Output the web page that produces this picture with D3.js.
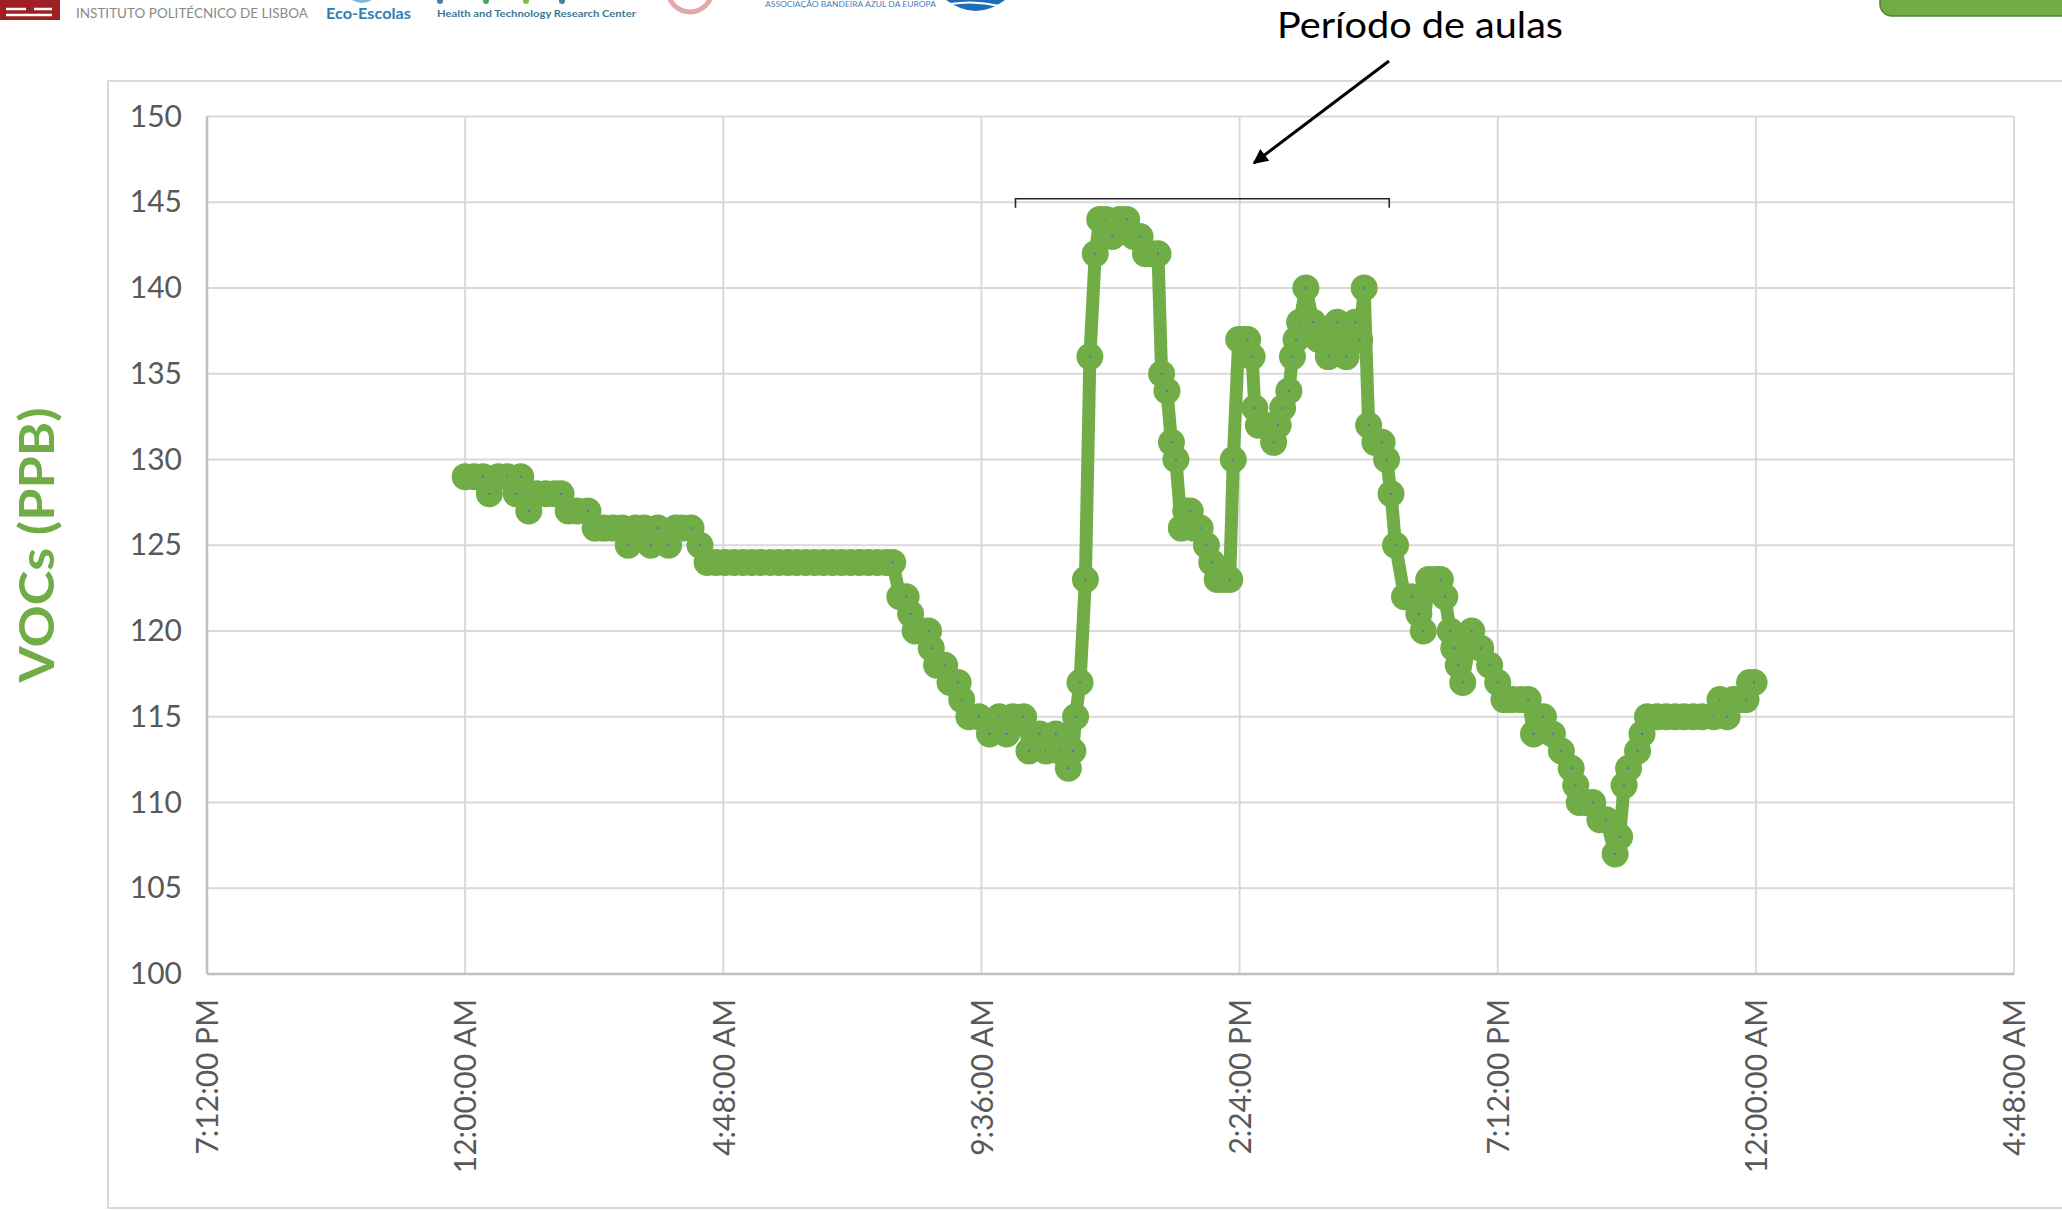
<!DOCTYPE html>
<html>
<head>
<meta charset="utf-8">
<script src="https://cdnjs.cloudflare.com/ajax/libs/d3/7.8.5/d3.min.js"></script>
<style>
    html, body { margin: 0; padding: 0; background: #fff; }
    #chart { width: 2062px; height: 1210px; overflow: hidden; }
    .axis text { font-family: Lato, "Open Sans", sans-serif; font-size: 30px; fill: #595959; }
    .grid line { stroke: #d9d9d9; stroke-width: 2; }
    .axisline { stroke: #bfbfbf; stroke-width: 2.5; }
    .frame { fill: none; stroke: #d9d9d9; stroke-width: 2; }
    .voc-line { fill: none; stroke: #70ad47; stroke-width: 13; stroke-linejoin: round; stroke-linecap: round; }
    .marker { fill: #70ad47; }
    .marker-dot { fill: #4472c4; }
    .ytitle { font-family: Lato, sans-serif; font-weight: 700; font-size: 47px; fill: #70ad47; }
    .note { font-family: Lato, sans-serif; font-size: 36px; fill: #000; }
</style>
</head>
<body>
<div id="chart"></div>
<script>

// reading times (hh:mm, one school day) and VOCs in ppb
var times = [
    "00:00","00:10","00:20","00:27","00:37","00:47","00:57","01:02","01:11","01:20",
    "01:30","01:40","01:47","01:55","02:05","02:17","02:25","02:35","02:45","02:55",
    "03:02","03:10","03:20","03:27","03:35","03:47","03:55","04:02","04:12","04:22",
    "04:30","04:40","04:50","05:00","05:10","05:20","05:30","05:40","05:50","06:00",
    "06:10","06:20","06:30","06:40","06:50","07:00","07:10","07:20","07:30","07:40",
    "07:50","07:57","08:05","08:12","08:17","08:22","08:30","08:37","08:40","08:46",
    "08:55","09:01","09:10","09:14","09:22","09:33","09:45","09:56","10:04","10:11",
    "10:23","10:29","10:41","10:48","10:59","11:03","11:13","11:18","11:21","11:26",
    "11:32","11:37","11:43","11:48","11:55","12:02","12:10","12:18","12:26","12:33",
    "12:39","12:46","12:53","12:57","13:03","13:08","13:13","13:19","13:24","13:29",
    "13:33","13:40","13:47","13:53","13:59","14:06","14:13","14:17","14:23","14:28",
    "14:33","14:38","14:41","14:45","14:53","15:02","15:07","15:12","15:19","15:23",
    "15:27","15:31","15:38","15:46","15:52","15:58","16:03","16:08","16:13","16:18",
    "16:23","16:28","16:33","16:38","16:43","16:48","16:55","17:03","17:08","17:13",
    "17:18","17:28","17:36","17:44","17:49","17:55","18:03","18:08","18:13","18:19",
    "18:23","18:28","18:33","18:43","18:53","19:03","19:12","19:19","19:28","19:38",
    "19:46","19:52","20:03","20:13","20:23","20:34","20:39","20:43","20:50","20:58",
    "21:06","21:13","21:23","21:28","21:33","21:38","21:48","21:53","21:59","22:10",
    "22:20","22:30","22:40","22:50","23:00","23:13","23:20","23:28","23:35","23:42",
    "23:49","23:53","23:58"
];

var vocs = [
    129,129,129,128,129,129,128,129,127,128,
    128,128,128,127,127,127,126,126,126,126,
    125,126,126,125,126,125,126,126,126,125,
    124,124,124,124,124,124,124,124,124,124,
    124,124,124,124,124,124,124,124,124,124,
    124,124,122,122,121,120,120,120,119,118,
    118,117,117,116,115,115,114,115,114,115,
    115,113,114,113,114,113,112,113,115,117,
    123,136,142,144,144,143,144,144,143,143,
    142,142,142,135,134,131,130,126,127,127,
    126,126,125,124,123,123,123,130,137,137,
    137,136,133,132,132,131,132,133,134,136,
    137,138,140,138,137,137,136,137,138,137,
    136,137,138,137,140,132,131,131,130,128,
    125,122,122,121,120,123,123,123,122,120,
    119,118,117,120,119,118,117,116,116,116,
    116,114,115,114,113,112,111,110,110,110,
    109,109,107,108,111,112,113,114,115,115,
    115,115,115,115,115,115,116,115,116,116,
    116,117,117
];

// x axis is Excel serial time (days), 0.2 day per tick
var xTickValues = [0.8, 1.0, 1.2, 1.4, 1.6, 1.8, 2.0, 2.2];
var xTickLabels = ["7:12:00 PM", "12:00:00 AM", "4:48:00 AM", "9:36:00 AM",
                   "2:24:00 PM", "7:12:00 PM", "12:00:00 AM", "4:48:00 AM"];
var yTickValues = [100, 105, 110, 115, 120, 125, 130, 135, 140, 145, 150];

// class period bracket
var classStart = "10:14", classEnd = "17:11", classLevel = 145.2;
var noteText = "Período de aulas";
var yTitle = "VOCs (PPB)";


function VocChart() {
    var self = this;

    this.x;
    this.y;
    this.svg;
    this.g;
    this.data = [];

    // SIZES
    this.width = 2062;
    this.height = 1210;
    this.c_margin = {top: 116.5, left: 207};
    this.c_width = 1807;
    this.c_height = 857.5;

    this.draw = function(div_id) {
        processData();

        this.svg = d3.select(div_id).append("svg")
            .attr("width", this.width)
            .attr("height", this.height);

        addHeader();

        // chart area border
        this.svg.append("rect")
            .attr("class", "frame")
            .attr("x", 108).attr("y", 81)
            .attr("width", 2000).attr("height", 1127);

        this.g = this.svg.append("g")
            .attr("transform", "translate(" + this.c_margin.left + "," + this.c_margin.top + ")");

        this.x = d3.scaleLinear().domain([0.8, 2.2]).range([0, this.c_width]);
        this.y = d3.scaleLinear().domain([100, 150]).range([this.c_height, 0]);

        /* GRID */
        var grid = this.g.append("g").attr("class", "grid");
        grid.selectAll(".hgrid")
            .data(yTickValues.slice(1))
            .enter().append("line")
                .attr("x1", 0).attr("x2", this.c_width)
                .attr("y1", function(d) { return self.y(d); })
                .attr("y2", function(d) { return self.y(d); });
        grid.selectAll(".vgrid")
            .data(xTickValues.slice(1))
            .enter().append("line")
                .attr("y1", 0).attr("y2", this.c_height)
                .attr("x1", function(d) { return self.x(d); })
                .attr("x2", function(d) { return self.x(d); });

        /* AXIS */
        this.yaxis = this.g.append("g")
            .attr("class", "y axis")
            .call(d3.axisLeft(this.y).tickValues(yTickValues).tickSize(0).tickPadding(25));
        this.yaxis.select(".domain").remove();

        this.xaxis = this.g.append("g")
            .attr("class", "x axis")
            .attr("transform", "translate(0," + this.c_height + ")")
            .call(d3.axisBottom(this.x).tickValues(xTickValues).tickSize(0)
                .tickFormat(function(d, i) { return xTickLabels[i]; }));
        this.xaxis.select(".domain").remove();
        this.xaxis.selectAll("text")
            .attr("transform", "rotate(-90)")
            .attr("text-anchor", "end")
            .attr("x", -25)
            .attr("y", 0)
            .attr("dy", "0.36em");

        this.g.append("line").attr("class", "axisline")
            .attr("x1", 0).attr("x2", 0).attr("y1", 0).attr("y2", this.c_height);
        this.g.append("line").attr("class", "axisline")
            .attr("x1", 0).attr("x2", this.c_width).attr("y1", this.c_height).attr("y2", this.c_height);

        /* SERIES */
        var line = d3.line()
            .x(function(d) { return self.x(d.day); })
            .y(function(d) { return self.y(d.voc); });

        this.g.append("path")
            .datum(this.data)
            .attr("class", "voc-line")
            .attr("d", line);

        var pts = this.g.selectAll(".pt")
            .data(this.data)
            .enter().append("g")
                .attr("class", "pt")
                .attr("transform", function(d) { return "translate(" + self.x(d.day) + "," + self.y(d.voc) + ")"; });
        pts.append("circle").attr("class", "marker").attr("r", 13.5);
        pts.append("circle").attr("class", "marker-dot").attr("r", 1.1);

        addAnnotation();

        // y title
        this.svg.append("text")
            .attr("class", "ytitle")
            .attr("transform", "translate(54,545) rotate(-90)")
            .attr("text-anchor", "middle")
            .attr("textLength", 275)
            .attr("lengthAdjust", "spacingAndGlyphs")
            .text(yTitle);
    }

    function toDay(t) {
        var p = t.split(":");
        return 1 + (+p[0] * 60 + +p[1]) / 1440;
    }

    function processData() {
        self.data = times.map(function(t, i) {
            return {day: toDay(t), voc: vocs[i]};
        });
    }

    function addAnnotation() {
        var x1 = self.x(toDay(classStart)),
            x2 = self.x(toDay(classEnd)),
            yb = self.y(classLevel);

        self.g.append("path")
            .attr("d", "M" + x1 + "," + (yb + 9) + "V" + yb + "H" + x2 + "V" + (yb + 9))
            .attr("fill", "none")
            .attr("stroke", "#262626")
            .attr("stroke-width", 1.6);

        var defs = self.svg.append("defs");
        defs.append("marker")
            .attr("id", "arrowhead")
            .attr("viewBox", "0 0 10 10")
            .attr("refX", 9).attr("refY", 5)
            .attr("markerWidth", 6).attr("markerHeight", 5)
            .attr("orient", "auto")
            .append("path").attr("d", "M0,0L10,5L0,10z").attr("fill", "#000");

        self.svg.append("line")
            .attr("x1", 1389).attr("y1", 61)
            .attr("x2", 1254).attr("y2", 163)
            .attr("stroke", "#000")
            .attr("stroke-width", 3)
            .attr("marker-end", "url(#arrowhead)");

        self.svg.append("text")
            .attr("class", "note")
            .attr("x", 1420).attr("y", 38)
            .attr("text-anchor", "middle")
            .attr("textLength", 286)
            .attr("lengthAdjust", "spacingAndGlyphs")
            .text(noteText);
    }

    function addHeader() {
        var h = self.svg.append("g").attr("class", "header");

        // partner logos, cut by the top of the slide
        h.append("rect").attr("x", 0).attr("y", 0).attr("width", 60).attr("height", 20).attr("fill", "#9e1f24");
        h.append("path").attr("d", "M6,9H26M34,9H52M6,15H52").attr("stroke", "#fff").attr("stroke-width", 2.5);
        h.append("text").attr("x", 76).attr("y", 18)
            .attr("textLength", 232).attr("lengthAdjust", "spacingAndGlyphs")
            .style("font", "13px Lato, sans-serif").attr("fill", "#8a8a8a")
            .text("INSTITUTO POLITÉCNICO DE LISBOA");

        h.append("path").attr("d", "M352,0Q362,6 372,0").attr("fill", "#7fb6d8");
        h.append("text").attr("x", 326).attr("y", 19)
            .attr("textLength", 85).attr("lengthAdjust", "spacingAndGlyphs")
            .style("font", "bold 16px Lato, sans-serif").attr("fill", "#2f7fb4")
            .text("Eco-Escolas");

        var dots = [[440, "#4d7f9c"], [486, "#4aa55b"], [526, "#7cc242"], [562, "#4d7f9c"]];
        dots.forEach(function(d) {
            h.append("ellipse").attr("cx", d[0]).attr("cy", 1).attr("rx", 3).attr("ry", 3).attr("fill", d[1]);
        });
        h.append("text").attr("x", 437).attr("y", 17)
            .attr("textLength", 199).attr("lengthAdjust", "spacingAndGlyphs")
            .style("font", "bold 9px Lato, sans-serif").attr("fill", "#3f7893")
            .text("Health and Technology Research Center");

        h.append("circle").attr("cx", 690).attr("cy", -10).attr("r", 22)
            .attr("fill", "none").attr("stroke", "#e3a9a9").attr("stroke-width", 5);

        h.append("text").attr("x", 765).attr("y", 7)
            .attr("textLength", 171).attr("lengthAdjust", "spacingAndGlyphs")
            .style("font", "7px Lato, sans-serif").attr("fill", "#4a80b8")
            .text("ASSOCIAÇÃO BANDEIRA AZUL DA EUROPA");
        h.append("path").attr("d", "M946,0Q976,22 1005,0Z").attr("fill", "#1f6db4");
        h.append("path").attr("d", "M950,4Q975,0 1000,6").attr("fill", "none").attr("stroke", "#fff").attr("stroke-width", 2);

        h.append("rect").attr("x", 1880).attr("y", -20).attr("width", 200).attr("height", 36).attr("rx", 12)
            .attr("fill", "#70ad47").attr("stroke", "#548235").attr("stroke-width", 1.5);
    }
}

var chart = new VocChart();
chart.draw("#chart");
</script>
</body>
</html>
